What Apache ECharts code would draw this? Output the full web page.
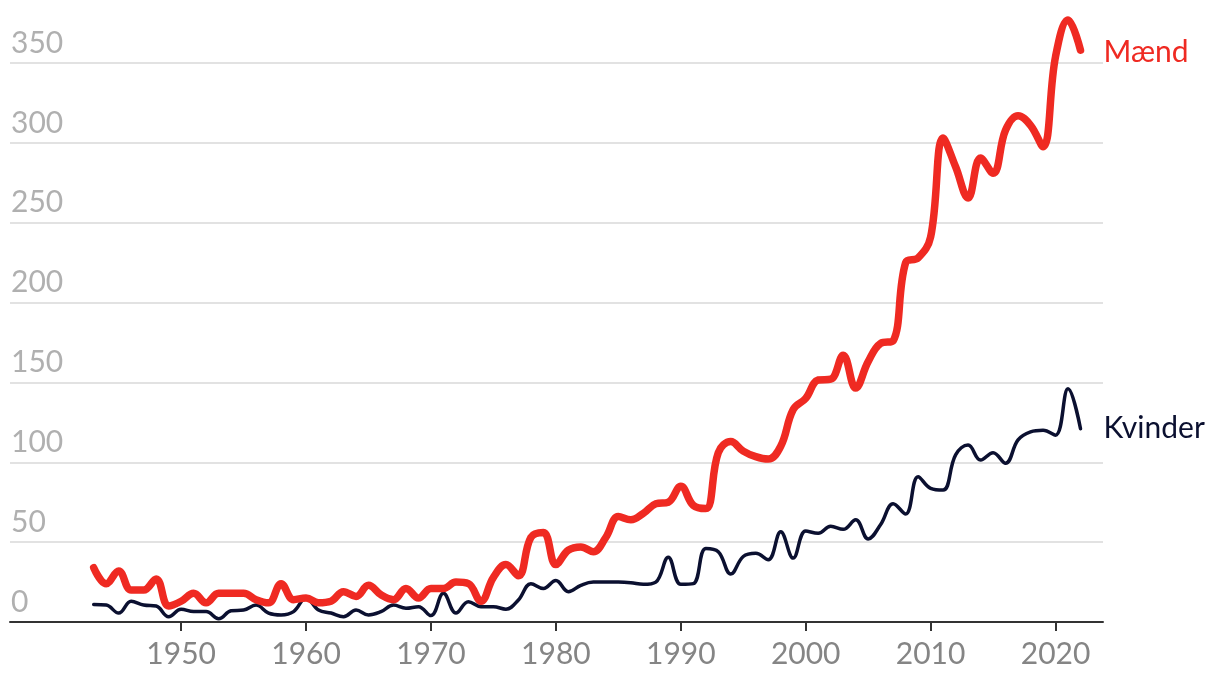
<!DOCTYPE html>
<html>
<head>
<meta charset="utf-8">
<script src="https://cdn.jsdelivr.net/npm/echarts@6/dist/echarts.min.js"></script>
<style>
html,body{margin:0;padding:0;background:#fff;}
#c{width:1220px;height:688px;}
</style>
</head>
<body>
<div id="c"></div>
<script>
const years = [];
for (let y = 1943; y <= 2022; y++) years.push(y);

const maend = [
  34, 24, 32, 20, 20, 27, 10, 13, 18, 12,
  18, 18, 18, 14, 12, 24, 14, 15, 12, 13,
  19, 16, 23, 17, 14, 21, 15, 21, 21, 25,
  24, 13, 28, 36, 29, 53, 56, 36, 45, 47,
  44, 53, 66, 64, 68, 74, 75, 85, 73, 71,
  106, 113, 107, 103.5, 102, 110, 133, 140, 151.5, 152,
  167, 146.5, 163, 174.5, 176, 225, 228, 241, 303, 285,
  265.5, 290.5, 281, 308, 317, 311, 297.6, 354, 377, 358
];

const kvinder = [
  11, 10.6, 5.6, 13, 10.6, 10, 3.3, 8, 6.5, 6.5,
  2, 7, 7.5, 10.6, 5.6, 4.4, 6.5, 15, 7.5, 5.6,
  3.3, 7.5, 4.4, 6.5, 10.6, 8.6, 9.6, 4, 18, 5.6,
  12.7, 9.6, 9.6, 8, 13.8, 24, 21, 26, 19, 23,
  25, 25, 25, 24.6, 23.6, 25, 40.5, 23.6, 24, 46,
  44, 30, 41, 43, 39, 56.5, 40, 57, 55.5, 60,
  58, 64, 52, 61, 74, 67.6, 91, 83.7, 82.6, 104.6,
  110.8, 101.4, 106, 99.4, 114, 119, 120, 117, 146, 121
];

const xTicks = [1950, 1960, 1970, 1980, 1990, 2000, 2010, 2020];
const yTicks = [0, 50, 100, 150, 200, 250, 300, 350];
const seriesNames = ['Mænd', 'Kvinder'];

const RED = '#ef2a22';
const NAVY = '#0b1030';
const FONT = 'Lato';

const chart = echarts.init(document.getElementById('c'), null, {renderer: 'canvas'});

function pairs(vals) { return years.map((y, i) => [y, vals[i]]); }

chart.setOption({
  animation: false,
  backgroundColor: '#ffffff',
  grid: {left: 10, right: 117, top: 63, bottom: 66, containLabel: false},
  xAxis: {
    type: 'value',
    min: 1936.3,
    max: 2023.8,
    axisLine: {show: true, lineStyle: {color: '#333333', width: 2}},
    axisTick: {show: true, length: 9, lineStyle: {color: '#333333', width: 2}, customValues: xTicks},
    axisLabel: {
      customValues: xTicks,
      color: '#858585', fontFamily: FONT, fontSize: 30, margin: 17,
      formatter: v => String(v)
    },
    splitLine: {show: false}
  },
  yAxis: {
    type: 'value',
    min: 0, max: 350, interval: 50,
    axisLine: {show: false},
    axisTick: {show: false},
    axisLabel: {
      inside: true, margin: 1, verticalAlign: 'bottom',
      color: '#b0b0b0', fontFamily: FONT, fontSize: 30,
      padding: [0, 0, 5, 0],
      formatter: v => yTicks.indexOf(v) >= 0 ? String(v) : ''
    },
    splitLine: {show: true, lineStyle: {color: '#e2e2e2', width: 2}}
  },
  series: [
    {
      name: seriesNames[1], type: 'line', data: pairs(kvinder),
      smooth: 0.4, symbol: 'none', clip: false, z: 2,
      lineStyle: {color: NAVY, width: 3.5, cap: 'round', join: 'round'},
      endLabel: {show: true, formatter: seriesNames[1], color: NAVY, fontFamily: FONT, fontSize: 30, distance: 23}
    },
    {
      name: seriesNames[0], type: 'line', data: pairs(maend),
      smooth: 0.4, symbol: 'none', clip: false, z: 3,
      lineStyle: {color: RED, width: 7.5, cap: 'round', join: 'round'},
      endLabel: {show: true, formatter: seriesNames[0], color: RED, fontFamily: FONT, fontSize: 30, distance: 23, offset: [0, 2]}
    }
  ]
});
</script>
</body>
</html>
